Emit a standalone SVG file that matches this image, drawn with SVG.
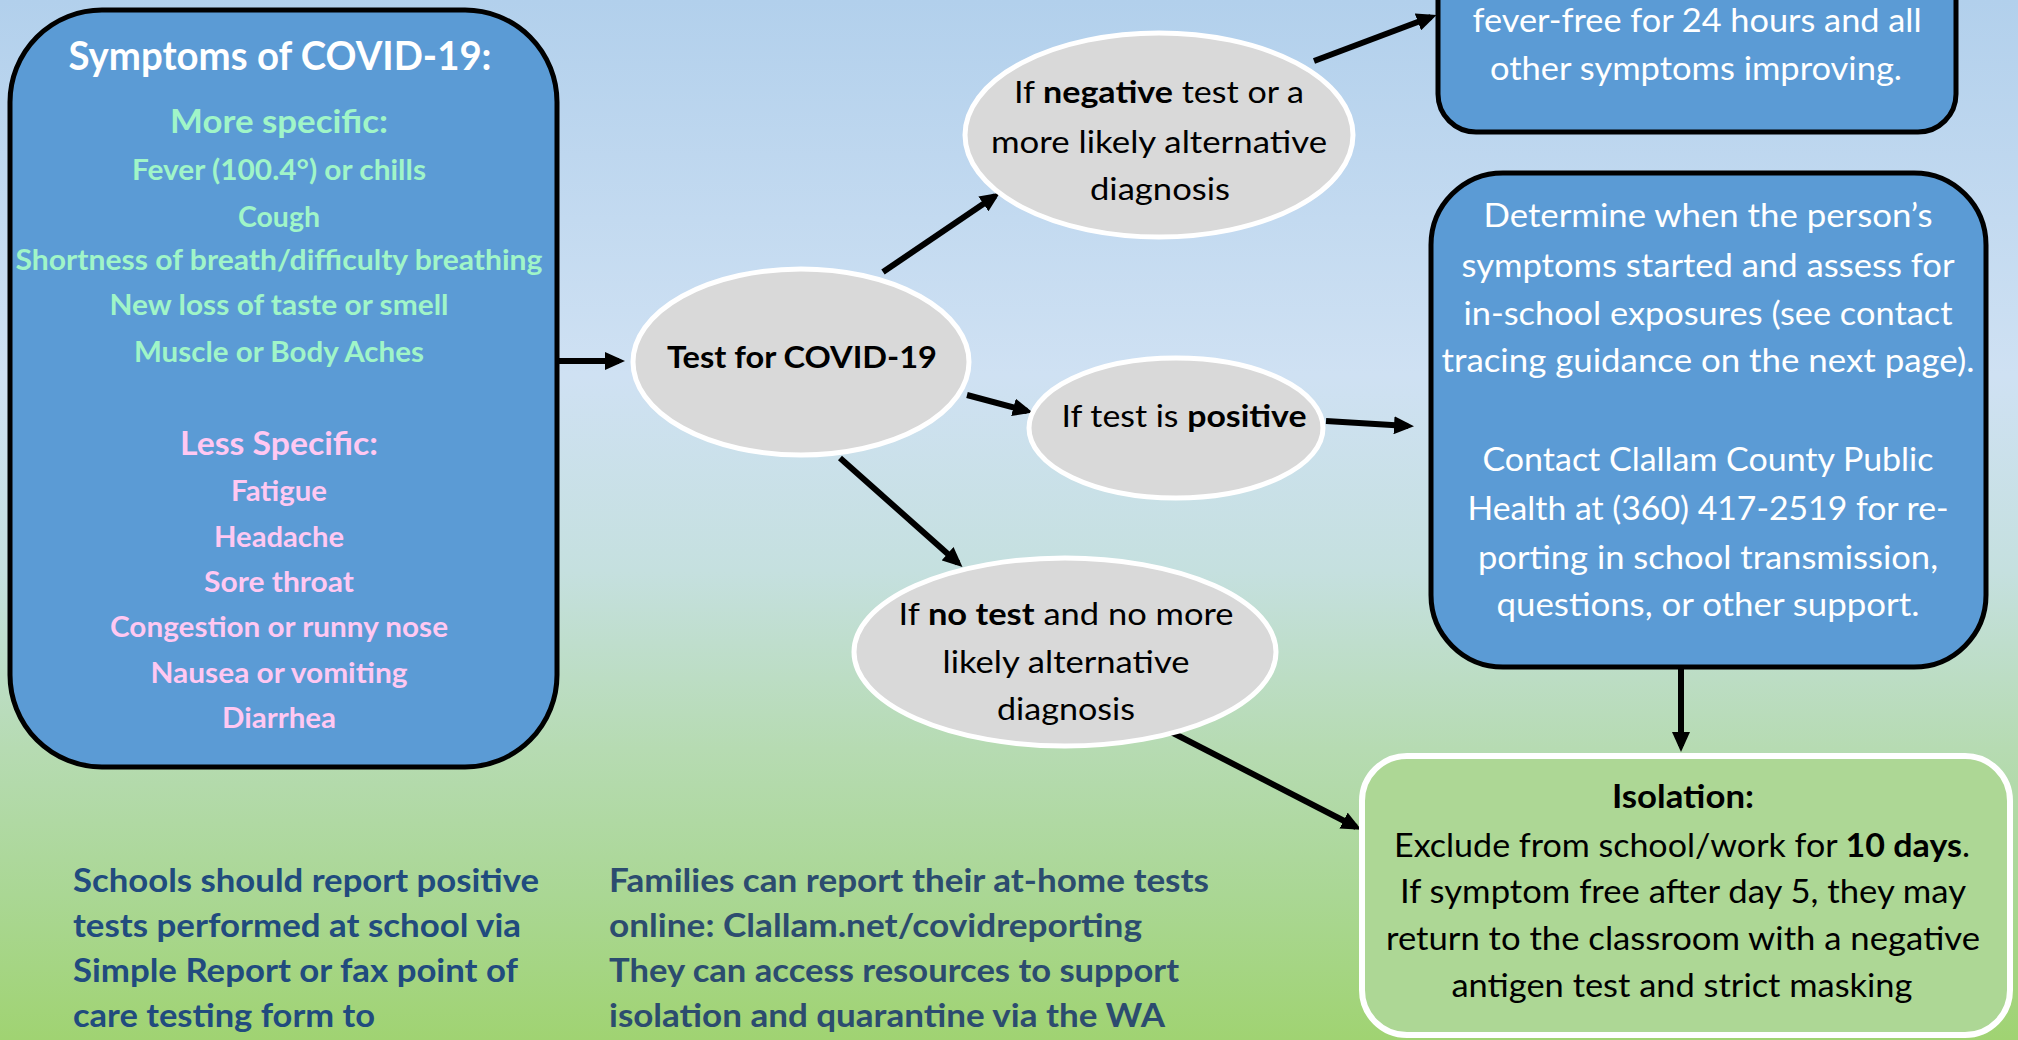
<svg xmlns="http://www.w3.org/2000/svg" width="2018" height="1040" viewBox="0 0 2018 1040">
<defs>
<linearGradient id="bg" x1="0" y1="0" x2="0" y2="1">
<stop offset="0" stop-color="#B2D0EC"/>
<stop offset="0.36" stop-color="#CFE1F3"/>
<stop offset="0.55" stop-color="#C5E0DF"/>
<stop offset="0.72" stop-color="#B6DBB2"/>
<stop offset="0.86" stop-color="#AAD794"/>
<stop offset="1" stop-color="#A0D372"/>
</linearGradient>
<marker id="ah" viewBox="0 0 20 18" refX="14" refY="9" markerWidth="20" markerHeight="18" markerUnits="userSpaceOnUse" orient="auto">
<path d="M0,0 L20,9 L0,18 z" fill="#000"/>
</marker>
<style>
text{font-family:Lato,"Liberation Sans",sans-serif}
.blue{fill:#5B9BD5;stroke:#000;stroke-width:5}
.oval{fill:#D9D9D9;stroke:#FFF;stroke-width:5}
.green{fill:#ADD795;stroke:#FFF;stroke-width:6}
.title{font-size:40px;font-weight:700;fill:#FFF}
.subm{font-size:33px;font-weight:700;fill:#A0F5C8}
.subl{font-size:33px;font-weight:700;fill:#FFC8F2}
.im{font-size:28px;font-weight:700;fill:#A0F5C8}
.il{font-size:28px;font-weight:700;fill:#FFC8F2}
.ot{font-size:31px;fill:#000}
.bt{font-size:32px;fill:#FFF}
.gt{font-size:32px;fill:#000}
.foot1{font-size:32px;font-weight:700;fill:#214B7E}
.foot2{font-size:32px;font-weight:700;fill:#2C4C6F}
.conn line{stroke:#000;stroke-width:6;marker-end:url(#ah)}
</style>
</defs>
<rect x="0" y="0" width="2018" height="1040" fill="url(#bg)"/>

<g id="connectors" class="conn">
<line x1="558" y1="361" x2="619" y2="361"/>
<line x1="883" y1="272" x2="995" y2="196"/>
<line x1="967" y1="395" x2="1027" y2="411"/>
<line x1="840" y1="458" x2="958" y2="563"/>
<line x1="1171" y1="732" x2="1356" y2="827"/>
<line x1="1314" y1="61" x2="1431" y2="17"/>
<line x1="1326" y1="421" x2="1408" y2="426"/>
<line x1="1681" y1="667" x2="1681" y2="746"/>
</g>

<g id="symptoms">
<rect class="blue" x="10" y="10" width="547" height="757" rx="92" ry="92"/>
<text class="title" x="280" y="70" text-anchor="middle" textLength="423" lengthAdjust="spacingAndGlyphs">Symptoms of COVID-19:</text>
<text class="subm" x="279" y="133" text-anchor="middle" textLength="218" lengthAdjust="spacingAndGlyphs">More specific:</text>
<text class="im" x="279" y="180" text-anchor="middle" textLength="294" lengthAdjust="spacingAndGlyphs">Fever (100.4°) or chills</text>
<text class="im" x="279" y="227" text-anchor="middle" textLength="82" lengthAdjust="spacingAndGlyphs">Cough</text>
<text class="im" x="279" y="270" text-anchor="middle" textLength="527" lengthAdjust="spacingAndGlyphs">Shortness of breath/difficulty breathing</text>
<text class="im" x="279" y="315" text-anchor="middle" textLength="339" lengthAdjust="spacingAndGlyphs">New loss of taste or smell</text>
<text class="im" x="279" y="362" text-anchor="middle" textLength="290" lengthAdjust="spacingAndGlyphs">Muscle or Body Aches</text>
<text class="subl" x="279" y="455" text-anchor="middle" textLength="198" lengthAdjust="spacingAndGlyphs">Less Specific:</text>
<text class="il" x="279" y="501" text-anchor="middle" textLength="96" lengthAdjust="spacingAndGlyphs">Fatigue</text>
<text class="il" x="279" y="547" text-anchor="middle" textLength="130" lengthAdjust="spacingAndGlyphs">Headache</text>
<text class="il" x="279" y="592" text-anchor="middle" textLength="150" lengthAdjust="spacingAndGlyphs">Sore throat</text>
<text class="il" x="279" y="637" text-anchor="middle" textLength="338" lengthAdjust="spacingAndGlyphs">Congestion or runny nose</text>
<text class="il" x="279" y="683" text-anchor="middle" textLength="257" lengthAdjust="spacingAndGlyphs">Nausea or vomiting</text>
<text class="il" x="279" y="728" text-anchor="middle" textLength="114" lengthAdjust="spacingAndGlyphs">Diarrhea</text>
</g>

<g id="test">
<ellipse class="oval" cx="801" cy="362" rx="168" ry="93"/>
<text class="ot" x="802" y="368" text-anchor="middle" font-weight="700" font-size="32" textLength="270" lengthAdjust="spacingAndGlyphs">Test for COVID-19</text>
</g>

<g id="negative">
<ellipse class="oval" cx="1159" cy="135" rx="194" ry="102"/>
<text class="ot" x="1159" y="103" text-anchor="middle" textLength="290" lengthAdjust="spacingAndGlyphs">If <tspan font-weight="700">negative</tspan> test or a</text>
<text class="ot" x="1159" y="153" text-anchor="middle" textLength="336" lengthAdjust="spacingAndGlyphs">more likely alternative</text>
<text class="ot" x="1160" y="200" text-anchor="middle" textLength="140" lengthAdjust="spacingAndGlyphs">diagnosis</text>
</g>

<g id="positive">
<ellipse class="oval" cx="1176" cy="428" rx="147" ry="70"/>
<text class="ot" x="1184" y="427" text-anchor="middle" textLength="245" lengthAdjust="spacingAndGlyphs">If test is <tspan font-weight="700">positive</tspan></text>
</g>

<g id="notest">
<ellipse class="oval" cx="1065" cy="652" rx="211" ry="94"/>
<text class="ot" x="1066" y="625" text-anchor="middle" textLength="335" lengthAdjust="spacingAndGlyphs">If <tspan font-weight="700">no test</tspan> and no more</text>
<text class="ot" x="1066" y="673" text-anchor="middle" textLength="247" lengthAdjust="spacingAndGlyphs">likely alternative</text>
<text class="ot" x="1066" y="720" text-anchor="middle" textLength="138" lengthAdjust="spacingAndGlyphs">diagnosis</text>
</g>

<g id="return">
<rect class="blue" x="1438" y="-100" width="518" height="232" rx="38" ry="38"/>
<text class="bt" x="1697" y="32" text-anchor="middle" textLength="449" lengthAdjust="spacingAndGlyphs">fever-free for 24 hours and all</text>
<text class="bt" x="1696" y="80" text-anchor="middle" textLength="412" lengthAdjust="spacingAndGlyphs">other symptoms improving.</text>
</g>

<g id="determine">
<rect class="blue" x="1431" y="173" width="555" height="494" rx="72" ry="72"/>
<text class="bt" x="1708" y="227" text-anchor="middle" textLength="449" lengthAdjust="spacingAndGlyphs">Determine when the person’s</text>
<text class="bt" x="1708" y="277" text-anchor="middle" textLength="493" lengthAdjust="spacingAndGlyphs">symptoms started and assess for</text>
<text class="bt" x="1708" y="325" text-anchor="middle" textLength="489" lengthAdjust="spacingAndGlyphs">in-school exposures (see contact</text>
<text class="bt" x="1708" y="372" text-anchor="middle" textLength="533" lengthAdjust="spacingAndGlyphs">tracing guidance on the next page).</text>
<text class="bt" x="1708" y="471" text-anchor="middle" textLength="451" lengthAdjust="spacingAndGlyphs">Contact Clallam County Public</text>
<text class="bt" x="1708" y="520" text-anchor="middle" textLength="481" lengthAdjust="spacingAndGlyphs">Health at (360) 417-2519 for re-</text>
<text class="bt" x="1708" y="569" text-anchor="middle" textLength="460" lengthAdjust="spacingAndGlyphs">porting in school transmission,</text>
<text class="bt" x="1708" y="616" text-anchor="middle" textLength="423" lengthAdjust="spacingAndGlyphs">questions, or other support.</text>
</g>

<g id="isolation">
<rect class="green" x="1362" y="756" width="648" height="279" rx="45" ry="45"/>
<text class="gt" x="1683" y="808" text-anchor="middle" font-weight="700" textLength="142" lengthAdjust="spacingAndGlyphs">Isolation:</text>
<text class="gt" x="1682" y="857" text-anchor="middle" textLength="576" lengthAdjust="spacingAndGlyphs">Exclude from school/work for <tspan font-weight="700">10 days</tspan>.</text>
<text class="gt" x="1683" y="903" text-anchor="middle" textLength="566" lengthAdjust="spacingAndGlyphs">If symptom free after day 5, they may</text>
<text class="gt" x="1683" y="950" text-anchor="middle" textLength="594" lengthAdjust="spacingAndGlyphs">return to the classroom with a negative</text>
<text class="gt" x="1682" y="997" text-anchor="middle" textLength="461" lengthAdjust="spacingAndGlyphs">antigen test and strict masking</text>
</g>

<g id="schools-note">
<text class="foot1" x="73" y="892" textLength="466" lengthAdjust="spacingAndGlyphs">Schools should report positive</text>
<text class="foot1" x="73" y="937" textLength="448" lengthAdjust="spacingAndGlyphs">tests performed at school via</text>
<text class="foot1" x="73" y="982" textLength="445" lengthAdjust="spacingAndGlyphs">Simple Report or fax point of</text>
<text class="foot1" x="73" y="1027" textLength="302" lengthAdjust="spacingAndGlyphs">care testing form to</text>
</g>

<g id="families-note">
<text class="foot2" x="609" y="892" textLength="600" lengthAdjust="spacingAndGlyphs">Families can report their at-home tests</text>
<text class="foot2" x="609" y="937" textLength="533" lengthAdjust="spacingAndGlyphs">online: Clallam.net/covidreporting</text>
<text class="foot2" x="609" y="982" textLength="570" lengthAdjust="spacingAndGlyphs">They can access resources to support</text>
<text class="foot2" x="609" y="1027" textLength="556" lengthAdjust="spacingAndGlyphs">isolation and quarantine via the WA</text>
</g>
</svg>
